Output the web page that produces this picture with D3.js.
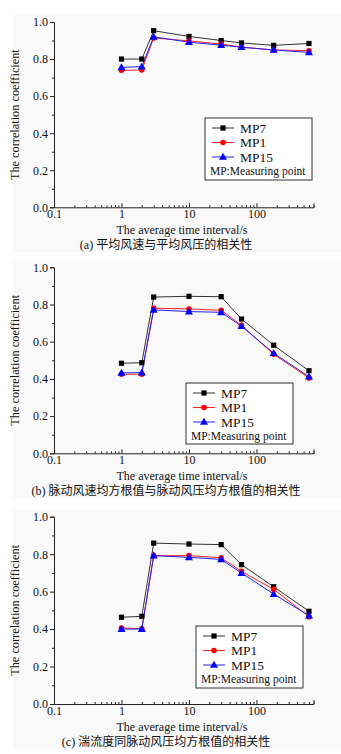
<!DOCTYPE html>
<html>
<head>
<meta charset="utf-8">
<script src="https://cdn.jsdelivr.net/npm/d3@7"></script>
<style>
  body { margin: 0; background: #fff; }
  svg { display: block; }
  text { font-family: "Liberation Serif", "Times New Roman", serif; fill: #111; }
  .cap { font-family: "Liberation Serif", "Noto Sans CJK SC", serif; }
</style>
</head>
<body>
<div id="chart"></div>
<script>
// averaging intervals (s)
const intervals = [1, 2, 3, 10, 30, 60, 180, 600];
const seriesNames = ["MP7", "MP1", "MP15"];
const yTicks = [0, 0.2, 0.4, 0.6, 0.8, 1.0];
const xTicks = [0.1, 1, 10, 100];

// (a) mean wind speed vs mean wind pressure
const a_MP7  = [0.80, 0.80, 0.953, 0.922, 0.90, 0.887, 0.874, 0.884];
const a_MP1  = [0.739, 0.741, 0.914, 0.898, 0.881, 0.864, 0.849, 0.845];
const a_MP15 = [0.755, 0.759, 0.920, 0.891, 0.875, 0.864, 0.849, 0.836];

// (b) rms fluctuating wind speed vs rms fluctuating pressure
const b_MP7  = [0.484, 0.487, 0.840, 0.844, 0.842, 0.722, 0.581, 0.444];
const b_MP1  = [0.425, 0.425, 0.780, 0.776, 0.769, 0.688, 0.532, 0.405];
const b_MP15 = [0.432, 0.434, 0.771, 0.762, 0.758, 0.683, 0.538, 0.412];

// (c) turbulence intensity vs rms fluctuating pressure
const c_MP7  = [0.463, 0.468, 0.859, 0.854, 0.851, 0.744, 0.626, 0.495];
const c_MP1  = [0.406, 0.402, 0.792, 0.792, 0.781, 0.708, 0.612, 0.466];
const c_MP15 = [0.400, 0.400, 0.792, 0.783, 0.772, 0.699, 0.587, 0.472];

const captions = [
  "(a) 平均风速与平均风压的相关性",
  "(b) 脉动风速均方根值与脉动风压均方根值的相关性",
  "(c) 湍流度同脉动风压均方根值的相关性"
];

const panels = [
  {series: [a_MP7, a_MP1, a_MP15], top: 22, bottom: 207.3, leg: {x: 205, y: 118, w: 107, h: 62}},
  {series: [b_MP7, b_MP1, b_MP15], top: 267.3, bottom: 453.3, leg: {x: 186, y: 383, w: 107, h: 61}},
  {series: [c_MP7, c_MP1, c_MP15], top: 516.7, bottom: 704, leg: {x: 196, y: 626, w: 107, h: 62}}
];

const lineColors = ["#333", "#ff2020", "#2020ff"];
const W = 341, H = 754;

const svg = d3.select("#chart").append("svg")
    .attr("width", W).attr("height", H);

const x = d3.scaleLog().domain([0.1, 700]).range([54, 313.5]);

// minor log ticks 2..9 of each decade
const xMinor = [];
[0.1, 1, 10, 100].forEach(d => {
  for (let k = 2; k <= 9; k++) if (d * k <= 700) xMinor.push(d * k);
});

function marker(g, i, cx, cy) {
  if (i === 0) {
    g.append("rect").attr("x", cx - 2.6).attr("y", cy - 2.6)
      .attr("width", 5.2).attr("height", 5.2).attr("fill", "#000");
  } else if (i === 1) {
    g.append("circle").attr("cx", cx).attr("cy", cy).attr("r", 2.8).attr("fill", "#ff0000");
  } else {
    g.append("path")
      .attr("d", d3.symbol().type(d3.symbolTriangle).size(28)())
      .attr("transform", `translate(${cx},${cy + 0.5})`)
      .attr("fill", "#0000ff");
  }
}

panels.forEach((p, pi) => {
  const g = svg.append("g");
  const y = d3.scaleLinear().domain([0, 1]).range([p.bottom, p.top]);

  // faint paper background
  g.append("rect").attr("x", 13).attr("y", p.top - 7)
    .attr("width", W - 13).attr("height", p.bottom - p.top + 52)
    .attr("fill", "#f9f9f9");

  // y axis, ticks outward
  g.append("g").attr("transform", `translate(${x.range()[0]},0)`)
    .call(d3.axisLeft(y).tickValues(yTicks).tickFormat(d3.format(".1f")).tickSize(4).tickPadding(2));
  g.append("g").attr("transform", `translate(${x.range()[0]},0)`)
    .call(d3.axisLeft(y).tickValues([0.1, 0.3, 0.5, 0.7, 0.9]).tickFormat("").tickSize(2))
    .select(".domain").remove();

  // x axis, ticks pointing up
  g.append("g").attr("transform", `translate(0,${p.bottom})`)
    .call(d3.axisBottom(x).tickValues(xTicks).tickFormat(d => d).tickSize(-4).tickPadding(2));
  g.append("g").attr("transform", `translate(0,${p.bottom})`)
    .call(d3.axisBottom(x).tickValues(xMinor).tickFormat("").tickSize(-2))
    .select(".domain").remove();

  g.selectAll(".domain").attr("stroke", "#222");
  g.selectAll(".tick line").attr("stroke", "#222");
  g.selectAll(".tick text").style("font-family", "'Liberation Serif', serif")
    .style("font-size", "12px").attr("fill", "#111");

  // axis titles
  g.append("text")
    .attr("transform", `translate(19,${(p.top + p.bottom) / 2}) rotate(-90)`)
    .attr("text-anchor", "middle").style("font-size", "12.3px")
    .text("The correlation coefficient");
  g.append("text").attr("x", 182).attr("y", p.bottom + 27)
    .attr("text-anchor", "middle").style("font-size", "12px")
    .text("The average time interval/s");
  g.append("text").attr("class", "cap").attr("x", 166).attr("y", p.bottom + 41.5)
    .attr("text-anchor", "middle").style("font-size", "12px")
    .text(captions[pi]);

  // lines + markers
  const line = d3.line().x((d, i) => x(intervals[i])).y(d => y(d));
  p.series.forEach((s, si) => {
    g.append("path").datum(s).attr("d", line)
      .attr("fill", "none").attr("stroke", lineColors[si]).attr("stroke-width", 1);
  });
  p.series.forEach((s, si) => {
    s.forEach((v, i) => marker(g, si, x(intervals[i]), y(v)));
  });

  // legend
  const L = p.leg;
  const lg = g.append("g").attr("transform", `translate(${L.x},${L.y})`);
  lg.append("rect").attr("width", L.w).attr("height", L.h)
    .attr("fill", "#fff").attr("stroke", "#333").attr("stroke-width", 1);
  seriesNames.forEach((n, i) => {
    const ry = 10 + i * 14.5;
    lg.append("line").attr("x1", 7).attr("x2", 29).attr("y1", ry).attr("y2", ry)
      .attr("stroke", lineColors[i]).attr("stroke-width", 1);
    marker(lg, i, 18, ry);
    lg.append("text").attr("x", 35).attr("y", ry + 4.5)
      .style("font-size", "13.5px").text(n);
  });
  lg.append("text").attr("x", 5).attr("y", 57)
    .style("font-size", "11.5px").text("MP:Measuring point");
});
</script>
</body>
</html>
